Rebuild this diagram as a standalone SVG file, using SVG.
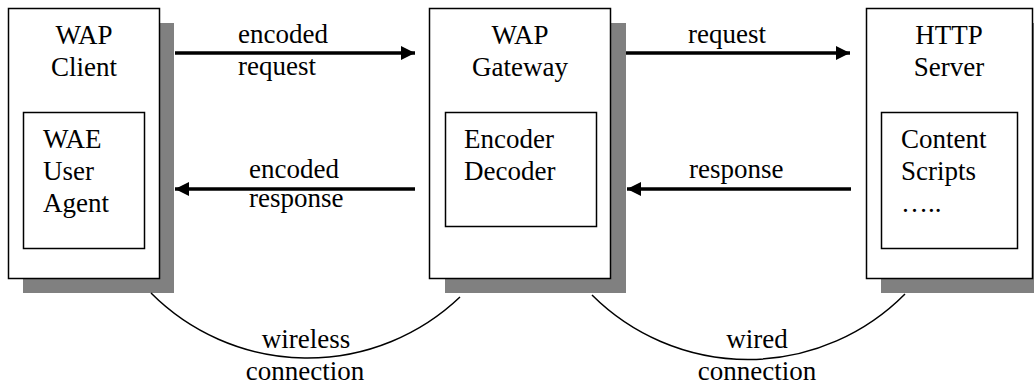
<svg xmlns="http://www.w3.org/2000/svg" width="1034" height="387" viewBox="0 0 1034 387">
<style>
.shadow{fill:#808080;stroke:none}
.box{fill:#fff;stroke:#000;stroke-width:1.5}
.t{font-family:'Liberation Serif','DejaVu Serif','Times New Roman',serif;font-size:27px;fill:#000}
.c{text-anchor:middle}
.arr{stroke:#000;stroke-width:3.5;fill:none}
.arc{stroke:#000;stroke-width:1.5;fill:none}
</style>
<defs>
<marker id="ah" viewBox="0 0 10 10" refX="10" refY="5" markerWidth="4.4" markerHeight="4" markerUnits="strokeWidth" orient="auto">
<path d="M0,0 L10,5 L0,10 Z" fill="#000"/>
</marker>
</defs>
<g id="client">
<rect class="shadow" x="23" y="23" width="151" height="270"/>
<rect class="box" x="8.5" y="8.5" width="151" height="270"/>
<rect class="box" x="23.5" y="112.5" width="121" height="136"/>
<text class="t c" x="84" y="44" font-family="Liberation Serif, serif">WAP</text>
<text class="t c" x="84" y="76">Client</text>
<text class="t" x="43" y="148">WAE</text>
<text class="t" x="43" y="180">User</text>
<text class="t" x="43" y="212">Agent</text>
</g>
<g id="gateway">
<rect class="shadow" x="445" y="23" width="181" height="270"/>
<rect class="box" x="429.5" y="8.5" width="181" height="270"/>
<rect class="box" x="445.5" y="112.5" width="151" height="114"/>
<text class="t c" x="520" y="44">WAP</text>
<text class="t c" x="520" y="76">Gateway</text>
<text class="t" x="464" y="148">Encoder</text>
<text class="t" x="464" y="180">Decoder</text>
</g>
<g id="server">
<rect class="shadow" x="881" y="23" width="170" height="270"/>
<rect class="box" x="866.5" y="8.5" width="166" height="270"/>
<rect class="box" x="881.5" y="112.5" width="136" height="136"/>
<text class="t c" x="949" y="44">HTTP</text>
<text class="t c" x="949" y="76">Server</text>
<text class="t" x="901" y="148">Content</text>
<text class="t" x="901" y="180">Scripts</text>
<text class="t" x="901" y="212">…..</text>
</g>
<g id="connectors">
<line class="arr" x1="175" y1="53" x2="415" y2="53" marker-end="url(#ah)"/>
<line class="arr" x1="626" y1="53" x2="850" y2="53" marker-end="url(#ah)"/>
<line class="arr" x1="415" y1="189" x2="175" y2="189" marker-end="url(#ah)"/>
<line class="arr" x1="851" y1="189" x2="627" y2="189" marker-end="url(#ah)"/>
<path class="arc" d="M151,293 A221,221 0 0 0 460,297"/>
<path class="arc" d="M592,295 A221,221 0 0 0 905,294"/>
<text class="t" x="238" y="43">encoded</text>
<text class="t" x="238" y="75">request</text>
<text class="t" x="249" y="178">encoded</text>
<text class="t" x="249" y="207">response</text>
<text class="t" x="688" y="43">request</text>
<text class="t" x="689" y="178">response</text>
<text class="t c" x="306" y="348">wireless</text>
<text class="t c" x="305" y="380">connection</text>
<text class="t c" x="757" y="348">wired</text>
<text class="t c" x="757" y="380">connection</text>
</g>
</svg>
